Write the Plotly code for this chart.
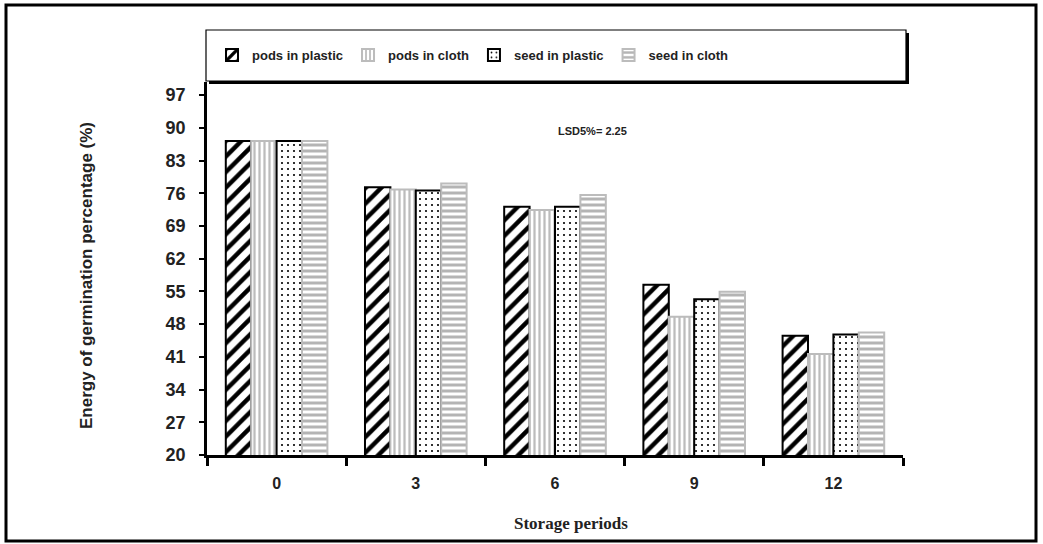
import plotly.graph_objects as go

periods = ["0", "3", "6", "9", "12"]
series_names = ["pods in plastic", "pods in cloth", "seed in plastic", "seed in cloth"]
pods_plastic = [87.2, 77.3, 73.1, 56.4, 45.5]
pods_cloth = [87.2, 76.8, 72.4, 49.6, 41.6]
seed_plastic = [87.2, 76.6, 73.1, 53.3, 45.8]
seed_cloth = [87.2, 78.1, 75.6, 54.9, 46.2]
y_ticks = [20, 27, 34, 41, 48, 55, 62, 69, 76, 83, 90, 97]

values = [pods_plastic, pods_cloth, seed_plastic, seed_cloth]
styles = [
    dict(shape="/", fg="#000000", size=11, sol=0.4, line="black"),
    dict(shape="|", fg="#bcbcbc", size=5, sol=0.45, line="#bcbcbc"),
    dict(shape=".", fg="#000000", size=6, sol=0.1, line="black"),
    dict(shape="-", fg="#b4b4b4", size=6, sol=0.5, line="#bcbcbc"),
]

fig = go.Figure()
for name, vals, st in zip(series_names, values, styles):
    fig.add_trace(go.Bar(
        x=periods, y=vals, name=name,
        marker=dict(color="white",
                    line=dict(color=st["line"], width=2),
                    pattern=dict(shape=st["shape"], fgcolor=st["fg"], bgcolor="white",
                                 fgopacity=1, fillmode="replace",
                                 size=st["size"], solidity=st["sol"])),
    ))

W, L, R, T, B = 1043, 207, 140, 82, 89
pw = W - L - R
ph = 544 - T - B


def px(x):
    return (x - L) / pw


def py(y):
    return (544 - B - y) / ph


shapes = [
    dict(type="rect", xref="paper", yref="paper", x0=px(6), x1=px(1036), y0=py(5), y1=py(541),
         line=dict(color="black", width=3), layer="below"),
    dict(type="rect", xref="paper", yref="paper", x0=px(209), x1=px(909), y0=py(33), y1=py(84),
         fillcolor="black", line=dict(width=0), layer="above"),
    dict(type="rect", xref="paper", yref="paper", x0=px(206), x1=px(906), y0=py(30), y1=py(81),
         fillcolor="white", line=dict(color="black", width=1.2), layer="above"),
]

annotations = [
    dict(text="Energy of germination percentage (%)", xref="paper", yref="paper",
         x=px(86), y=py(276), xanchor="center", yanchor="middle", textangle=-90, showarrow=False,
         font=dict(family="Liberation Sans", size=17, color="#222", weight="bold")),
    dict(text="Storage periods", xref="paper", yref="paper", x=px(571), y=py(523),
         xanchor="center", yanchor="middle",
         showarrow=False, font=dict(family="Liberation Serif", size=17, color="#222", weight="bold")),
    dict(text="LSD5%= 2.25", xref="paper", yref="paper", x=px(592), y=py(131),
         xanchor="center", yanchor="middle",
         showarrow=False, font=dict(family="Liberation Sans", size=11, color="#222", weight="bold")),
]

fig.update_layout(
    width=W, height=544,
    margin=dict(l=L, r=R, t=T, b=B, pad=0),
    paper_bgcolor="white", plot_bgcolor="white",
    barmode="group", bargap=0.27, bargroupgap=0,
    showlegend=True,
    legend=dict(orientation="h", x=px(212), y=py(40), xanchor="left", yanchor="top",
                bgcolor="rgba(0,0,0,0)", borderwidth=0, itemwidth=30,
                font=dict(family="Liberation Sans", size=13, color="#222", weight="bold")),
    shapes=shapes, annotations=annotations,
    xaxis=dict(showline=True, linecolor="black", linewidth=2.5, ticks="outside",
               tickson="boundaries", ticklen=8, tickwidth=2.5, tickcolor="black",
               showgrid=False, zeroline=False, ticklabelstandoff=12,
               tickfont=dict(family="Liberation Sans", size=16, color="#222", weight="bold")),
    yaxis=dict(range=[20, 99.8], tickvals=y_ticks, showline=True, linecolor="black",
               linewidth=2.5, ticks="outside", ticklen=5, tickwidth=2, tickcolor="black",
               showgrid=False, zeroline=False, ticklabelstandoff=10,
               tickfont=dict(family="Liberation Sans", size=18, color="#222", weight="bold")),
)

fig.write_html("out.html", config={"displayModeBar": False},
               post_script="document.body.style.margin='0px';")
